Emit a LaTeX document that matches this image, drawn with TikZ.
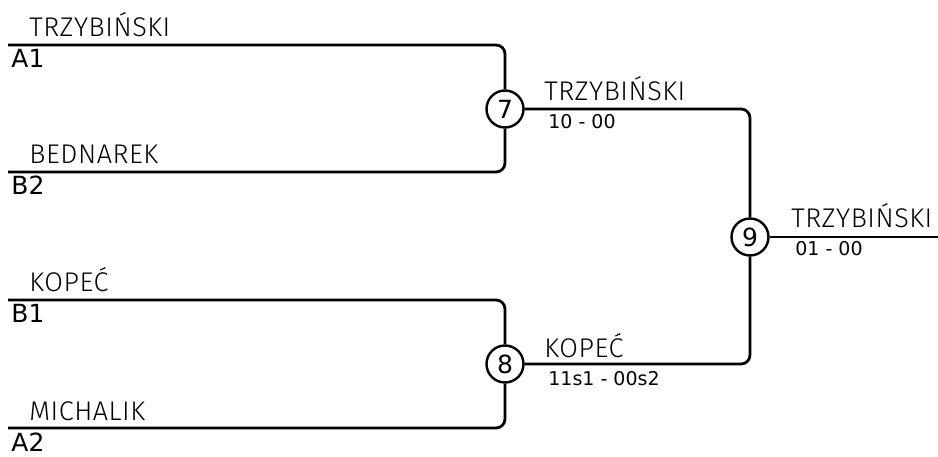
\documentclass[tikz,border=0pt]{standalone}
\usepackage{fontspec}
\setmainfont{DejaVu Sans}
\newfontfamily\namefont[LetterSpace=2]{Fira Sans Light}
\begin{document}
\begin{tikzpicture}[x=1pt,y=-1pt,line width=2.8pt,
  match/.style={draw,circle,minimum size=37pt,inner sep=0pt,line width=2.4pt,font=\fontsize{25}{25}\selectfont},
  player/.style={anchor=base west,inner sep=0pt,font=\namefont\fontsize{27}{27}\selectfont},
  seed/.style={anchor=base west,inner sep=0pt,font=\fontsize{25}{25}\selectfont},
  score/.style={anchor=base west,inner sep=0pt,font=\fontsize{19}{19}\selectfont},
  bracket/.style={rounded corners=9pt}]
\useasboundingbox (0,0) rectangle (938,457);

\coordinate (a1) at (8,45);
\coordinate (b2) at (8,172);
\coordinate (b1) at (8,300);
\coordinate (a2) at (8,428);
\coordinate (out) at (938,237);

\node[match] (m7) at (505,109) {7};
\node[match] (m8) at (505,364) {8};
\node[match] (m9) at (750,237) {9};

\draw[bracket] (a1) -| (m7);
\draw[bracket] (b2) -| (m7);
\draw[bracket] (b1) -| (m8);
\draw[bracket] (a2) -| (m8);
\draw[bracket] (m7) -| (m9);
\draw[bracket] (m8) -| (m9);
\draw (m9) -- (out);

\node[player] (pa1) at (28,37)  {TRZYBIŃSKI};
\node[player] (pb2) at (28,164) {BEDNAREK};
\node[player] (pb1) at (28,292) {KOPEĆ};
\node[player] (pa2) at (28,420) {MICHALIK};
\node[seed]   (sa1) at (10,68)  {A1};
\node[seed]   (sb2) at (10,195) {B2};
\node[seed]   (sb1) at (10,323) {B1};
\node[seed]   (sa2) at (10,451) {A2};

\node[player] (w7) at (543,101) {TRZYBIŃSKI};
\node[score]  (r7) at (547,129) {10 - 00};
\node[player] (w8) at (543,357) {KOPEĆ};
\node[score]  (r8) at (547,385) {11s1 - 00s2};
\node[player] (w9) at (790,228) {TRZYBIŃSKI};
\node[score]  (r9) at (794,256) {01 - 00};
\end{tikzpicture}
\end{document}
